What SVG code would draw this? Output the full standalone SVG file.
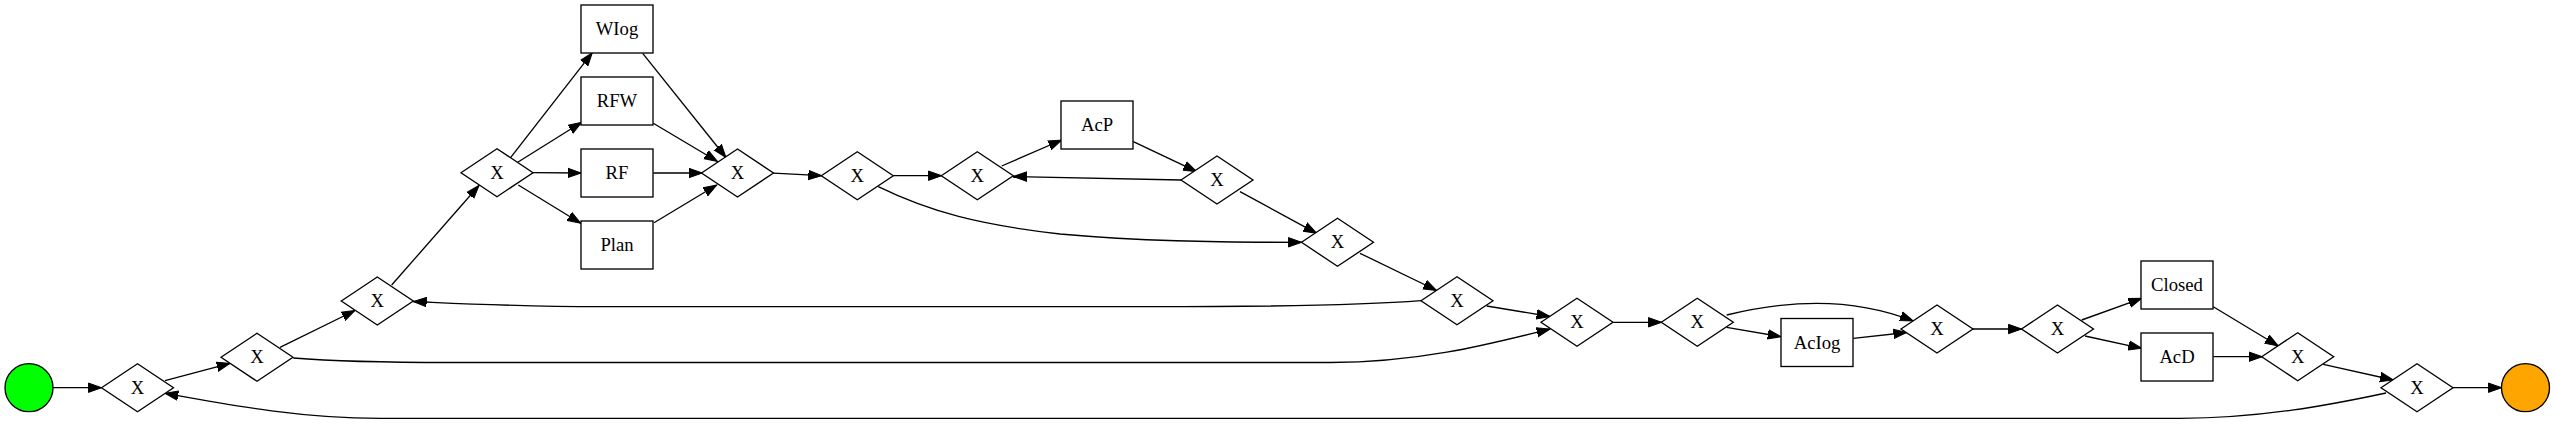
<svg xmlns="http://www.w3.org/2000/svg" width="2555" height="424" viewBox="0 0 2555 424">
<style>
.gw polygon{fill:#fff;stroke:#000;stroke-width:1.33}
.task rect{fill:#fff;stroke:#000;stroke-width:1.33}
text{font-family:"Liberation Serif","Times New Roman",serif;font-size:18.67px;text-anchor:middle;fill:#000}
.edges path{fill:none;stroke:#000;stroke-width:1.33;marker-end:url(#arr)}
</style>
<defs>
<marker id="arr" markerUnits="userSpaceOnUse" markerWidth="15" markerHeight="11" refX="13.3" refY="5" orient="auto" viewBox="0 0 15 10">
<path d="M0,0.3 L13.3,5 L0,9.7 Z" fill="#000" stroke="#000" stroke-width="1"/>
</marker>
</defs>
<rect width="2555" height="424" fill="#fff"/>
<g class="edges">
<path d="M53,387.7 L101.7,387.7"/>
<path d="M165,380.7 L230,363.3"/>
<path d="M280,347.3 L355,310.5"/>
<path d="M293.3,358 C330,361 380,362.5 450,362.5 L1330,362.5 C1420,362.5 1490,344 1550,329"/>
<path d="M391.7,285 L479,185.5"/>
<path d="M510,158.3 L592.3,52.7"/>
<path d="M517.7,162.3 L581.7,122.3"/>
<path d="M532.7,172.7 L581,173"/>
<path d="M518.3,185 L580.7,223.3"/>
<path d="M642.7,53.3 L726,157.5"/>
<path d="M653.3,123.3 L717.5,161.5"/>
<path d="M653.3,173 L702.3,173"/>
<path d="M654,222.7 L716.7,185"/>
<path d="M773.3,173.2 L821.7,175.7"/>
<path d="M893.3,175.7 L941.7,175.7"/>
<path d="M878.3,186.7 C930,212 980,225 1060,234 C1140,241 1210,242.3 1301.7,242.3"/>
<path d="M1001.7,166 L1061.7,140"/>
<path d="M1133.3,141.7 L1196.7,171.7"/>
<path d="M1181,180 C1120,178.5 1060,177 1013.3,176.5"/>
<path d="M1240,191.7 L1316.7,233.3"/>
<path d="M1360,253.3 L1436.7,290.5"/>
<path d="M1421,300.7 C1380,304 1300,306.7 1150,306.7 L600,306.7 C520,306.7 460,303.5 413.3,301.5"/>
<path d="M1486.7,306 L1550,316.5"/>
<path d="M1613.3,322.3 L1661.7,322.3"/>
<path d="M1726.7,327.3 L1781,336.7"/>
<path d="M1726.7,315 C1760,307 1790,303.3 1816.7,303.3 C1850,303.3 1885,310 1913.3,321"/>
<path d="M1853.3,338.3 L1906.7,332.5"/>
<path d="M1972.7,329 L2021.7,329"/>
<path d="M2081.7,320 L2141.7,298.3"/>
<path d="M2085,336 L2141.7,348.3"/>
<path d="M2213.3,306.7 L2278.3,346"/>
<path d="M2213.3,356.7 L2262.3,356.7"/>
<path d="M2323.3,364.3 L2393.3,380"/>
<path d="M2452.7,387.7 L2501.7,387.7"/>
<path d="M2386,393 C2330,405 2260,418.3 2180,418.3 L380,418.3 C300,418.3 230,405 165,393.3"/>
</g>
<g id="start"><circle cx="29" cy="387.7" r="24" fill="#00ff00" stroke="#000" stroke-width="1.33"/></g>
<g id="end"><circle cx="2525.5" cy="387.7" r="24" fill="#ffa500" stroke="#000" stroke-width="1.33"/></g>
<g id="g1" class="gw" transform="translate(137.5,387.7)"><polygon points="-36,0 0,-24 36,0 0,24"/><text y="6">X</text></g>
<g id="g2" class="gw" transform="translate(257,357.3)"><polygon points="-36,0 0,-24 36,0 0,24"/><text y="6">X</text></g>
<g id="g3" class="gw" transform="translate(377.3,301)"><polygon points="-36,0 0,-24 36,0 0,24"/><text y="6">X</text></g>
<g id="g4" class="gw" transform="translate(497,172.7)"><polygon points="-36,0 0,-24 36,0 0,24"/><text y="6">X</text></g>
<g id="wiog" class="task"><rect x="581" y="5" width="72" height="48"/><text x="617" y="35">WIog</text></g>
<g id="rfw" class="task"><rect x="581" y="77" width="72" height="48"/><text x="617" y="107">RFW</text></g>
<g id="rf" class="task"><rect x="581" y="149" width="72" height="48"/><text x="617" y="179">RF</text></g>
<g id="plan" class="task"><rect x="581" y="221" width="72" height="48"/><text x="617" y="251">Plan</text></g>
<g id="g5" class="gw" transform="translate(737.5,173)"><polygon points="-36,0 0,-24 36,0 0,24"/><text y="6">X</text></g>
<g id="g6" class="gw" transform="translate(857.3,175.7)"><polygon points="-36,0 0,-24 36,0 0,24"/><text y="6">X</text></g>
<g id="g7" class="gw" transform="translate(977.3,175.7)"><polygon points="-36,0 0,-24 36,0 0,24"/><text y="6">X</text></g>
<g id="acp" class="task"><rect x="1061" y="101" width="72" height="48"/><text x="1097" y="131">AcP</text></g>
<g id="g8" class="gw" transform="translate(1217,180)"><polygon points="-36,0 0,-24 36,0 0,24"/><text y="6">X</text></g>
<g id="g9" class="gw" transform="translate(1337.5,242.3)"><polygon points="-36,0 0,-24 36,0 0,24"/><text y="6">X</text></g>
<g id="g10" class="gw" transform="translate(1457,300.7)"><polygon points="-36,0 0,-24 36,0 0,24"/><text y="6">X</text></g>
<g id="g11" class="gw" transform="translate(1577,322.3)"><polygon points="-36,0 0,-24 36,0 0,24"/><text y="6">X</text></g>
<g id="g12" class="gw" transform="translate(1697.3,322.3)"><polygon points="-36,0 0,-24 36,0 0,24"/><text y="6">X</text></g>
<g id="aciog" class="task"><rect x="1781" y="318.5" width="72" height="48"/><text x="1817" y="348.5">AcIog</text></g>
<g id="g13" class="gw" transform="translate(1937,329)"><polygon points="-36,0 0,-24 36,0 0,24"/><text y="6">X</text></g>
<g id="g14" class="gw" transform="translate(2057.5,329)"><polygon points="-36,0 0,-24 36,0 0,24"/><text y="6">X</text></g>
<g id="closed" class="task"><rect x="2141" y="261" width="72" height="48"/><text x="2177" y="291">Closed</text></g>
<g id="acd" class="task"><rect x="2141" y="333" width="72" height="48"/><text x="2177" y="363">AcD</text></g>
<g id="g15" class="gw" transform="translate(2297.7,356.7)"><polygon points="-36,0 0,-24 36,0 0,24"/><text y="6">X</text></g>
<g id="g16" class="gw" transform="translate(2417,387.7)"><polygon points="-36,0 0,-24 36,0 0,24"/><text y="6">X</text></g>
</svg>
